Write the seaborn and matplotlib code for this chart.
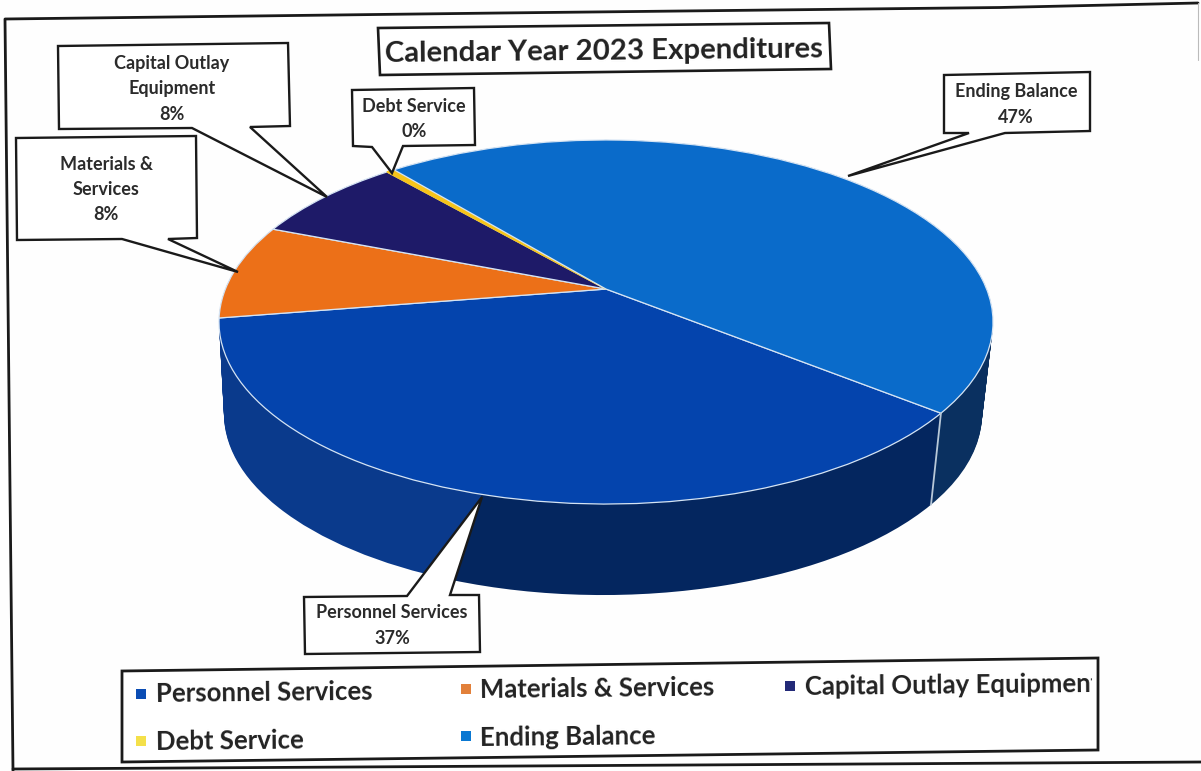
import numpy as np
import matplotlib
matplotlib.use("Agg")
import matplotlib.pyplot as plt
from matplotlib.patches import Polygon, Rectangle
from matplotlib.transforms import Transform
import seaborn as sns

categories = ["Personnel Services", "Materials & Services",
              "Capital Outlay Equipment", "Debt Service", "Ending Balance"]
shares = [36.7, 8.45, 7.75, 0.4, 46.7]
callout_names = [["Personnel Services"], ["Materials &", "Services"],
                 ["Capital Outlay", "Equipment"], ["Debt Service"], ["Ending Balance"]]
top_colors = ["#0444ad", "#ec7018", "#1e1a68", "#f6c41a", "#0a6bca"]
# the personnel wall is split in two tones, the scan shows a step at the leader line
wall_shares = [18.6, 18.1, 8.45, 7.75, 0.4, 46.7]
wall_colors = ["#04265f", "#0a3a8c", "#a8500f", "#14104a", "#b08a10", "#0a3060"]
legend_colors = ["#0b4db4", "#e2803a", "#232a78", "#f4e04a", "#0a78d2"]

title = "Calendar Year 2023 Expenditures"
start_angle = -38.7


class TiltPie(Transform):
    # unit circle -> ellipse in pixels, with the apex pushed back like a perspective view
    input_dims = 2
    output_dims = 2
    has_inverse = False

    def __init__(self, cx, cy, a, b, t=0.181):
        super().__init__()
        self.cx, self.cy, self.a, self.b, self.t = cx, cy, a, b, t

    def transform_non_affine(self, values):
        x, y = np.asarray(values, dtype=float).T
        d = 1 + self.t * y
        u = x * np.sqrt(1 - self.t ** 2) / d
        v = (y + self.t) / d
        return np.column_stack((self.cx + self.a * u, self.cy - self.b * v))


def draw_pie(ax, values, colors, tilt, edge=None, lw=0.0):
    wedges, _ = ax.pie(values, colors=colors, startangle=start_angle, counterclock=False,
                       wedgeprops={"linewidth": lw, "edgecolor": edge if edge else "none"})
    for w in wedges:
        w.set_transform(tilt + ax.transData)
        w.set_clip_on(False)
    return wedges


sns.set_theme(style="white")
plt.rcParams["font.family"] = ["Lato", "DejaVu Sans"]

fig = plt.figure(figsize=(12.01, 7.71), dpi=100, facecolor="#fefefe")
ax = fig.add_axes([0, 0, 1, 1])

# ======================
# Pie side wall
# ======================
top_geom = np.array([606, 322, 387, 182], dtype=float)
bottom_geom = np.array([603, 414, 379, 181], dtype=float)
for f in np.linspace(1, 0, 62):
    g = top_geom + (bottom_geom - top_geom) * f
    # tone step follows the leader line on its way down
    layer_shares = list(wall_shares)
    layer_shares[0] += 1.1 * f
    layer_shares[1] -= 1.1 * f
    draw_pie(ax, layer_shares, wall_colors, TiltPie(*g))

# ======================
# Pie top
# ======================
wedges = draw_pie(ax, shares, top_colors, TiltPie(*top_geom), edge="#d5e4f4", lw=0.9)
wedges[3].set_edgecolor(top_colors[3])
wedges[3].set_linewidth(1.0)

# light seam on the wall where Ending Balance starts
seam = np.deg2rad(start_angle)
seam_pt = [[np.cos(seam), np.sin(seam)]]
p0 = TiltPie(*top_geom).transform(seam_pt)[0]
p1 = TiltPie(*bottom_geom).transform(seam_pt)[0]
ax.plot([p0[0], p1[0]], [p0[1], p1[1]], color="#b8c8d8", lw=1.3, zorder=3)

ax.set_aspect("auto")
ax.set_xlim(0, 1201)
ax.set_ylim(771, 0)
ax.set_frame_on(False)
ax.set_xticks([])
ax.set_yticks([])

# ======================
# Outer frame (scan is a little rotated)
# ======================
ink = "#1a1a1a"
ax.plot([1198, 1000, 500, 5, 13], [3, 7.5, 13, 19, 771], color=ink, lw=2.0, zorder=5)
ax.plot([13, 1201], [769, 762], color=ink, lw=2.0, zorder=5)
ax.plot([1198, 1198], [3, 60], color="#bbbbbb", lw=0.8, zorder=5)

# ======================
# Title
# ======================
ax.add_patch(Polygon([(378, 28), (829, 23), (831, 69), (380, 75)], closed=True,
                     facecolor="white", edgecolor=ink, lw=1.9, zorder=6))
ax.text(604, 52, title, fontsize=21.2, fontweight="bold", color="#222222",
        ha="center", va="center", rotation=0.6, zorder=7)

# ======================
# Callouts
# ======================
callout_shapes = [
    [(304, 597), (407, 596), (482, 497), (450, 595), (479, 595), (480, 652), (305, 654)],
    [(16, 138), (196, 136), (197, 238), (168, 239), (238, 272), (122, 239), (17, 240)],
    [(58, 46), (288, 43), (290, 126), (250, 127), (327, 197), (192, 128), (59, 129)],
    [(352, 90), (474, 88), (475, 145), (403, 146), (392, 173), (372, 147), (353, 146)],
    [(944, 75), (1090, 72), (1090, 131), (1005, 133), (848, 176), (969, 133), (944, 133)],
]
callout_x = [392, 106, 172, 414, 1016]
callout_first_y = [613, 164, 63, 106, 92]
line_step = 25.5

for name, share, shape, tx, ty in zip(callout_names, shares, callout_shapes,
                                      callout_x, callout_first_y):
    ax.add_patch(Polygon(shape, closed=True, facecolor="white", edgecolor=ink,
                         lw=1.7, joinstyle="miter", zorder=6))
    for i, line in enumerate(list(name) + [f"{share:.0f}%"]):
        ax.text(tx, ty + i * line_step, line, fontsize=13, fontweight="bold",
                color="#2b2b2b", ha="center", va="center", zorder=7)

# ======================
# Legend
# ======================
ax.add_patch(Polygon([(122, 671), (1098, 658), (1098, 750), (122, 762)], closed=True,
                     facecolor="white", edgecolor=ink, lw=2.0, zorder=6))
legend_marker_x = [141, 466, 790, 141, 466]
legend_marker_y = [694, 689, 686, 741, 736]
legend_text_x = [156, 480, 805, 156, 480]
legend_text_y = [693, 689, 685, 741, 737]
clip = Rectangle((0, 0), 1092, 771, transform=ax.transData)

for name, color, mx, my, tx, ty in zip(categories, legend_colors, legend_marker_x,
                                       legend_marker_y, legend_text_x, legend_text_y):
    ax.scatter([mx], [my], marker="s", s=42, color=color, linewidths=0, zorder=7)
    label = ax.text(tx, ty, name, fontsize=18.5, fontweight="bold", color="#222222",
                    ha="left", va="center", rotation=0.6, zorder=7)
    label.set_clip_path(clip)
    label.set_clip_on(True)

fig.savefig("out.png", dpi=100, facecolor=fig.get_facecolor())
